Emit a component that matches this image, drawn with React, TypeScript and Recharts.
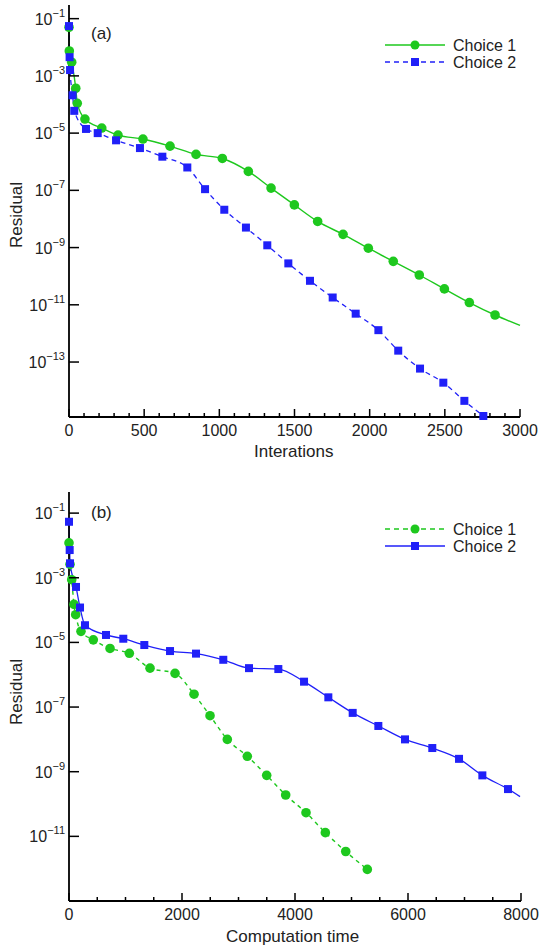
import { LineChart, Line, XAxis, YAxis } from "recharts"

// (a) residual vs iterations
const iterChoice1 = [0, 2, 18, 45, 55, 106, 218, 326, 492, 672, 845, 1020, 1193, 1344, 1499, 1654, 1823, 1991, 2157, 2330, 2497, 2663, 2834, 3000]
const resIterChoice1 = [5e-2, 7.4e-3, 3e-3, 3.7e-4, 1.1e-4, 3.1e-5, 1.5e-5, 8.5e-6, 6.2e-6, 3.5e-6, 1.8e-6, 1.3e-6, 4.6e-7, 1.2e-7, 3.1e-8, 8.2e-9, 2.9e-9, 9.5e-10, 3.3e-10, 1.1e-10, 3.6e-11, 1.2e-11, 4.4e-12, 1.9e-12]
const iterChoice2 = [0, 4, 7, 24, 35, 113, 191, 313, 472, 621, 787, 905, 1033, 1177, 1319, 1459, 1603, 1754, 1907, 2058, 2190, 2335, 2490, 2630, 2756]
const resIterChoice2 = [5.5e-2, 4.5e-3, 1.6e-3, 2.1e-4, 6e-5, 1.4e-5, 1e-5, 5.6e-6, 3e-6, 1.5e-6, 6.3e-7, 1.1e-7, 2.1e-8, 5e-9, 1.2e-9, 2.8e-10, 6.9e-11, 1.8e-11, 4.9e-12, 1.3e-12, 2.5e-13, 5.9e-14, 1.9e-14, 4.4e-15, 1.3e-15]

// (b) residual vs computation time
const timeChoice1 = [0, 18, 48, 88, 118, 212, 430, 726, 1068, 1434, 1877, 2213, 2496, 2802, 3156, 3499, 3835, 4195, 4537, 4898, 5280]
const resTimeChoice1 = [1.2e-2, 2.6e-3, 8.7e-4, 1.5e-4, 7.2e-5, 2.2e-5, 1.2e-5, 6.5e-6, 4.6e-6, 1.6e-6, 1.1e-6, 2.5e-7, 5.4e-8, 1e-8, 3e-9, 7.7e-10, 1.9e-10, 5.4e-11, 1.3e-11, 3.4e-12, 9.5e-13]
const timeChoice2 = [0, 12, 18, 124, 195, 283, 655, 961, 1333, 1788, 2248, 2731, 3186, 3705, 4160, 4590, 5021, 5475, 5947, 6430, 6903, 7316, 7770, 7983]
const resTimeChoice2 = [5.4e-2, 7.2e-3, 2.8e-3, 5.2e-4, 1.2e-4, 3.4e-5, 1.7e-5, 1.3e-5, 8.3e-6, 5.4e-6, 4.5e-6, 2.9e-6, 1.6e-6, 1.5e-6, 6.1e-7, 2e-7, 6.6e-8, 2.6e-8, 1e-8, 5.4e-9, 2.5e-9, 7.7e-10, 2.9e-10, 1.7e-10]

const xMajorA = [0, 500, 1000, 1500, 2000, 2500, 3000]
const xMajorB = [0, 2000, 4000, 6000, 8000]
const yTicksA = [1e-1, 1e-3, 1e-5, 1e-7, 1e-9, 1e-11, 1e-13]
const yTicksB = [1e-1, 1e-3, 1e-5, 1e-7, 1e-9, 1e-11]
const seriesNames = ["Choice 1", "Choice 2"]

const GREEN = "#1ec81e"
const BLUE = "#2020f8"
const FONT = "'Liberation Sans', Arial, sans-serif"

const toRows = (xs: number[], ys: number[]) => xs.map((x, i) => ({ x, y: ys[i] }))
const minorTicks = (max: number, step: number) => Array.from({ length: max / step + 1 }, (_, i) => i * step)

function XTick(props: any) {
  const { x, y, payload, majors } = props
  const major = majors.includes(payload.value)
  return (
    <g>
      <line x1={x} x2={x} y1={y} y2={y - (major ? 8 : 4)} stroke="#000" strokeWidth={1.5} />
      {major && (
        <text x={x} y={y + 19} textAnchor="middle" fontSize={16} fill="#222" fontFamily={FONT}>
          {payload.value}
        </text>
      )}
    </g>
  )
}

function YTick(props: any) {
  const { x, y, payload } = props
  const exp = Math.round(Math.log10(payload.value))
  return (
    <g>
      <line x1={x} x2={x + 10} y1={y} y2={y} stroke="#000" strokeWidth={1.5} />
      <text x={x - 4} y={y + 6} textAnchor="end" fontSize={16} fill="#222" fontFamily={FONT}>
        <tspan>10</tspan>
        <tspan dy={-8} fontSize={11}>{"\u2212" + Math.abs(exp)}</tspan>
      </text>
    </g>
  )
}

function makeDot(shape: "circle" | "square", color: string, count: number) {
  return (p: any) => {
    const { cx, cy, index } = p
    if (index >= count || cx == null || cy == null) return <g key={index} />
    if (shape === "circle") return <circle key={index} cx={cx} cy={cy} r={4.8} fill={color} />
    return <rect key={index} x={cx - 4} y={cy - 4} width={8} height={8} fill={color} />
  }
}

function LegendBox({ top, dashed }: { top: number; dashed: [boolean, boolean] }) {
  const rows = [
    { name: seriesNames[0], color: GREEN, shape: "circle", dash: dashed[0] },
    { name: seriesNames[1], color: BLUE, shape: "square", dash: dashed[1] },
  ]
  return (
    <svg style={{ position: "absolute", left: 380, top, overflow: "visible" }} width={160} height={40}>
      {rows.map((r, i) => {
        const cy = 8 + i * 17
        return (
          <g key={r.name}>
            <line x1={5} x2={65} y1={cy} y2={cy} stroke={r.color} strokeWidth={1.4} strokeDasharray={r.dash ? "5 4" : undefined} />
            {r.shape === "circle" ? <circle cx={35} cy={cy} r={4.5} fill={r.color} /> : <rect x={31} y={cy - 4} width={8} height={8} fill={r.color} />}
            <text x={73} y={cy + 6} fontSize={16} fill="#222" fontFamily={FONT}>{r.name}</text>
          </g>
        )
      })}
    </svg>
  )
}

const textStyle: React.CSSProperties = { position: "absolute", fontFamily: FONT, fontSize: 17, color: "#222", whiteSpace: "nowrap", lineHeight: "20px" }

export default function App() {
  const a1 = toRows(iterChoice1, resIterChoice1)
  const a2 = toRows(iterChoice2, resIterChoice2)
  const b1 = toRows(timeChoice1, resTimeChoice1)
  const b2 = toRows(timeChoice2, resTimeChoice2)

  return (
    <div style={{ position: "absolute", left: 0, top: 0, width: 542, height: 949, background: "#fff" }}>
      <div style={{ position: "absolute", left: 0, top: 0 }}>
        <LineChart width={542} height={460} margin={{ top: 5, right: 22, bottom: 0, left: 0 }}>
          <XAxis type="number" dataKey="x" domain={[0, 3000]} ticks={minorTicks(3000, 100)} interval={0} height={43}
            tickSize={0} tickMargin={0} tickLine={false} axisLine={{ stroke: "#000", strokeWidth: 1.8 }}
            tick={(p: any) => <XTick {...p} majors={xMajorA} />} />
          <YAxis type="number" dataKey="y" scale="log" domain={[1.2e-15, 0.3]} ticks={yTicksA} interval={0} width={69}
            tickSize={0} tickMargin={0} tickLine={false} axisLine={{ stroke: "#000", strokeWidth: 1.8 }}
            tick={(p: any) => <YTick {...p} />} />
          <Line data={a1} dataKey="y" type="monotone" stroke={GREEN} strokeWidth={1.4} isAnimationActive={false}
            dot={makeDot("circle", GREEN, iterChoice1.length - 1)} activeDot={false} />
          <Line data={a2} dataKey="y" type="monotone" stroke={BLUE} strokeWidth={1.3} strokeDasharray="5 4" isAnimationActive={false}
            dot={makeDot("square", BLUE, iterChoice2.length)} activeDot={false} />
        </LineChart>
      </div>
      <div style={{ ...textStyle, left: 91, top: 24 }}>(a)</div>
      <div style={{ ...textStyle, left: 254, top: 442 }}>Interations</div>
      <div style={{ ...textStyle, left: 17, top: 215, transform: "translate(-50%, -50%) rotate(-90deg)" }}>Residual</div>
      <LegendBox top={37} dashed={[false, true]} />

      <div style={{ position: "absolute", left: 0, top: 475 }}>
        <LineChart width={542} height={474} margin={{ top: 17, right: 21, bottom: 0, left: 0 }}>
          <XAxis type="number" dataKey="x" domain={[0, 8000]} ticks={minorTicks(8000, 500)} interval={0} height={48}
            tickSize={0} tickMargin={0} tickLine={false} axisLine={{ stroke: "#000", strokeWidth: 1.8 }}
            tick={(p: any) => <XTick {...p} majors={xMajorB} />} />
          <YAxis type="number" dataKey="y" scale="log" domain={[1e-13, 0.45]} ticks={yTicksB} interval={0} width={69}
            tickSize={0} tickMargin={0} tickLine={false} axisLine={{ stroke: "#000", strokeWidth: 1.8 }}
            tick={(p: any) => <YTick {...p} />} />
          <Line data={b1} dataKey="y" type="monotone" stroke={GREEN} strokeWidth={1.4} strokeDasharray="4 4" isAnimationActive={false}
            dot={makeDot("circle", GREEN, timeChoice1.length)} activeDot={false} />
          <Line data={b2} dataKey="y" type="monotone" stroke={BLUE} strokeWidth={1.3} isAnimationActive={false}
            dot={makeDot("square", BLUE, timeChoice2.length - 1)} activeDot={false} />
        </LineChart>
      </div>
      <div style={{ ...textStyle, left: 91, top: 503 }}>(b)</div>
      <div style={{ ...textStyle, left: 226, top: 927 }}>Computation time</div>
      <div style={{ ...textStyle, left: 17, top: 692, transform: "translate(-50%, -50%) rotate(-90deg)" }}>Residual</div>
      <LegendBox top={521} dashed={[true, false]} />
    </div>
  )
}
